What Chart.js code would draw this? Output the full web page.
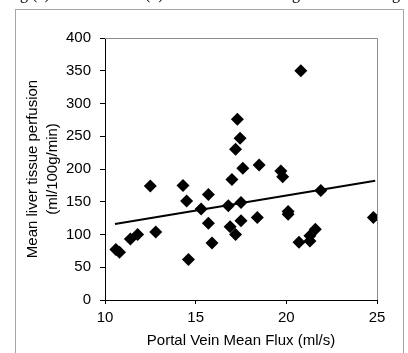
<!DOCTYPE html>
<html>
<head>
<meta charset="utf-8">
<script src="https://cdn.jsdelivr.net/npm/chart.js@4/dist/chart.umd.min.js"></script>
<style>
  html, body { margin: 0; padding: 0; background: #fff; }
  canvas { display: block; }
</style>
</head>
<body>
<canvas id="perfusionChart" width="408" height="353"></canvas>
<script>
// values
const fluxValues = [20.8, 17.3, 17.45, 17.2, 17.6, 18.5, 19.7, 19.8, 17.0, 12.5, 14.3, 15.7,
  21.9, 14.5, 17.5, 16.8, 15.3, 20.1, 20.1, 18.4, 24.8, 17.5, 15.7, 16.9,
  21.6, 17.2, 12.8, 11.8, 11.4, 21.3, 20.7, 21.3, 15.9, 10.6, 10.8, 14.6];
const perfusionValues = [350, 276, 247, 230, 201, 206, 197, 188, 184, 174, 175, 161,
  167, 151, 149, 144, 139, 135, 131, 126, 126, 121, 117, 112,
  108, 100, 104, 100, 93, 98, 88, 90, 87, 77, 73, 62];
const trendX = [10.55, 24.9];
const trendY = [116, 182];
const xTicks = [10, 15, 20, 25];
const yTicks = [0, 50, 100, 150, 200, 250, 300, 350, 400];

const FONT = "'Liberation Sans', Arial, sans-serif";

const frame = {
  id: "frame",
  beforeDraw: (chart) => {
    const ctx = chart.ctx;
    ctx.save();
    ctx.fillStyle = "#fff";
    ctx.fillRect(0, 0, chart.width, chart.height);
    // outer box of the figure
    ctx.strokeStyle = "#a6a6a6";
    ctx.lineWidth = 1;
    ctx.strokeRect(15.5, 9.5, 388, 360);
    // cut-off text from the page above
    ctx.fillStyle = "#000";
    ctx.font = "16px 'Liberation Serif', serif";
    ctx.textBaseline = "alphabetic";
    ctx.fillText("g (c)", 20, -1);
    ctx.fillText("(d)", 145, -1);
    ctx.fillText("g", 292, -1);
    ctx.fillText("g", 392, -1);
    ctx.restore();
  },
  afterDraw: (chart) => {
    const { left, right, top, bottom } = chart.chartArea;
    const ctx = chart.ctx;
    ctx.save();
    ctx.strokeStyle = "#8c8c8c";
    ctx.lineWidth = 1;
    ctx.beginPath();
    ctx.moveTo(left, top + 0.5);
    ctx.lineTo(right + 0.5, top + 0.5);
    ctx.lineTo(right + 0.5, bottom);
    ctx.stroke();
    ctx.restore();
  },
};

const ctx = document.getElementById("perfusionChart").getContext("2d");
new Chart(ctx, {
  type: "scatter",
  data: {
    datasets: [
      {
        label: "Perfusion",
        data: fluxValues.map((x, i) => ({ x: x, y: perfusionValues[i] })),
        pointStyle: "rectRot",
        pointRadius: 6.5,
        backgroundColor: "#000",
        borderColor: "#000",
        borderWidth: 0,
      },
      {
        label: "Trend",
        type: "line",
        data: trendX.map((x, i) => ({ x: x, y: trendY[i] })),
        borderColor: "#000",
        borderWidth: 2,
        pointRadius: 0,
        fill: false,
      },
    ],
  },
  plugins: [frame],
  options: {
    responsive: false,
    animation: false,
    layout: { padding: { left: 15, right: 31, top: 38, bottom: 0 } },
    plugins: {
      legend: { display: false },
      tooltip: { enabled: false },
    },
    scales: {
      x: {
        type: "linear",
        min: 10,
        max: 25,
        afterBuildTicks: (scale) => {
          scale.ticks = xTicks.map((v) => ({ value: v }));
        },
        afterFit: (scale) => {
          scale.height = 53;
        },
        border: { color: "#000", width: 1 },
        grid: { drawOnChartArea: false, drawTicks: true, tickLength: 4, color: "#000" },
        ticks: { color: "#000", padding: 5, font: { family: FONT, size: 15 } },
        title: {
          display: true,
          text: "Portal Vein Mean Flux (ml/s)",
          color: "#000",
          font: { family: FONT, size: 15, lineHeight: "18px" },
          padding: { top: 0, bottom: 3 },
        },
      },
      y: {
        type: "linear",
        min: 0,
        max: 400,
        afterBuildTicks: (scale) => {
          scale.ticks = yTicks.map((v) => ({ value: v }));
        },
        afterFit: (scale) => {
          scale.width = 90;
        },
        border: { color: "#000", width: 1 },
        grid: { drawOnChartArea: false, drawTicks: true, tickLength: 5, color: "#000" },
        ticks: { color: "#000", padding: 9, font: { family: FONT, size: 15 } },
        title: {
          display: true,
          text: ["Mean liver tissue perfusion", "(ml/100g/min)"],
          color: "#000",
          font: { family: FONT, size: 15, lineHeight: "20px" },
          padding: { top: 8, bottom: 0 },
        },
      },
    },
  },
});
</script>
</body>
</html>
